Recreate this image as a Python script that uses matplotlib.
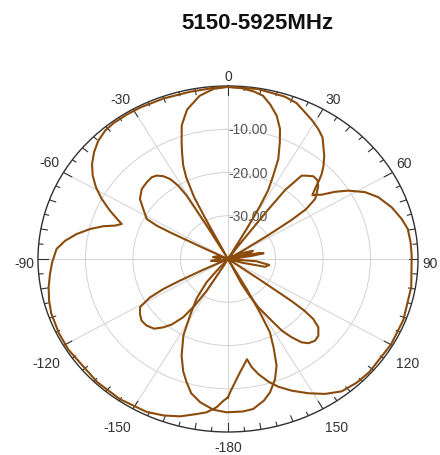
import matplotlib.pyplot as plt
import numpy as np

plt.rcParams.update({
	"font.family": ["Liberation Sans", "DejaVu Sans"],
	"figure.facecolor": "white",
})

# outer trace (angle in degrees, clockwise from top; gain in dB)
outerAngles = [-180, -178.3, -176, -172.8, -169.6, -164.5, -159.4, -154.2, -145, -136, -122, -115.7,
	-108.7, -104.4, -99.8, -95.3, -91, -86.3, -83, -79.7, -76.6, -73.9, -72, -70.1, -68.4, -65.8,
	-62.4, -59.2, -55.9, -52.5, -48.8, -45, -41.1, -37.4, -32.5, -27.8, -20.2, -11.7, -3.4,
	0, 9, 17.6, 21.8, 25.5, 29, 32.3, 35.3, 40.3, 43, 45.1, 46.6, 48.1, 50.2, 53, 55.4, 58,
	61.8, 65.7, 70.9, 75.8, 79.6, 84.3, 89, 99.6, 111, 120, 131.3, 136.5, 142, 146.8, 151.4,
	156.2, 160.3, 163.3, 166.5, 168.7, 170.2, 174.5, 179.2, 180]
outerGain = [-8.0, -7.2, -5.64, -4.28, -3.56, -2.24, -1.36, -0.72, -0.4, -0.4, -0.4, -0.48,
	-0.72, -1.12, -1.68, -2.36, -3.0, -3.84, -5.44, -7.64, -10.12, -12.68, -15.0, -16.2, -14.92, -12.76,
	-10.0, -7.64, -5.6, -3.92, -2.52, -1.36, -0.64, -0.4, -0.4, -0.4, -0.48, -0.52, -0.24,
	-0.2, -0.2, -0.6, -1.16, -2.4, -3.4, -4.44, -5.56, -8.68, -10.52, -12.16, -13.64, -15.2, -16.88, -15.28, -12.64, -10.16,
	-7.28, -5.28, -3.52, -2.28, -1.52, -1.36, -1.32, -0.88, -0.48, -0.4, -0.4, -0.6, -1.16, -2.72, -4.64,
	-6.72, -8.64, -10.4, -12.64, -14.48, -16.48, -13.68, -9.16, -8.0]

# lobed trace
lobeAngles = [-180, -151, -150, -148.5, -147, -145, -142, -139.3, -136, -131.9, -128, -124.5,
	-121, -118.4, -117, -116.3, -115.5, -114, -105, -97, -90, -82, -75, -68,
	-64.5, -63.8, -63.2, -62.8, -61.6, -57.1, -53.2, -48.3, -44, -40.4, -37.9, -35.4, -33.4, -31.7,
	-30.7, -30.2, -29.5,
	-28.5, -27, -26.5, -25, -23.6, -21.5, -19.9, -17.5, -14, -9, -4.5, 0, 4, 8, 11, 14, 17.2, 20, 22, 24.6, 26.3,
	28, 28.8, 29.5, 31, 35.5, 36.5, 37, 38.8, 40.7, 43.2, 46, 48.2, 51, 52.9, 55, 56, 57, 58, 59.5,
	65, 70, 74, 76, 78, 80, 82, 85, 90, 95, 99, 103, 106, 110, 124, 125.5, 126, 126.6, 127.7,
	129.7, 133, 135.9, 139, 141.2, 143.5, 145.6, 147.2, 150.2, 152, 153.6, 155, 180]
lobeGain = [-40, -40, -38.0, -31.4, -27.2, -23.56, -20.8, -19.16, -17.6, -16.96, -16.88, -17.52,
	-18.4, -21.32, -24.8, -28.72, -34.0, -40, -38.0, -36.4, -38.4, -36.8, -37.6, -40,
	-40, -34.0, -26.32, -23.12, -20.56, -18.76, -16.84, -15.68, -15.36, -15.2, -15.56, -16.52, -17.84, -20.08,
	-22.96, -31.08, -40,
	-40, -30.0, -24.0, -19.2, -16.48, -13.6, -11.32, -7.6, -4.4, -1.8, -0.56, -0.2, -0.4, -0.88, -1.52, -3.2, -5.32, -8.0, -10.88, -14.56, -18.52,
	-22.0, -26.0, -32.0, -40, -36.0, -26.0, -20.0, -15.28, -14.6, -13.76, -13.8, -14.52, -16.0, -17.0, -20.0, -24.0, -30.0, -36.0, -40,
	-36.8, -34.4, -35.2, -38.4, -33.2, -32.4, -35.2, -38.8, -40, -34.0, -31.2, -32.0, -36.8, -40, -40, -32.0, -23.6, -20.0, -17.32,
	-15.28, -14.0, -13.68, -14.2, -15.28, -17.48, -19.92, -23.0, -27.12, -30.4, -33.52, -40, -40]

# bottom lobe (angles past 180 continue clockwise, 224 = -136)
backAngles = [149, 150.5, 151.5, 152.5, 155, 157.5, 160.5, 164, 167, 171.3, 175, 180.5,
	185, 190, 194, 197, 200, 203.6, 208, 211.4, 216, 220, 221, 224]
backGain = [-40, -32.0, -26.0, -20.88, -17.2, -13.28, -10.4, -7.92, -6.4, -4.92, -4.6, -4.56,
	-5.0, -6.36, -8.0, -10.2, -12.4, -15.6, -20.0, -24.64, -28.8, -33.0, -36.0, -40]

ringValues = [-30, -20, -10]
thetaLabelAngles = np.arange(0, 360, 30)
thetaLabels = ["0", "30", "60", "90", "120", "150", "-180", "-150", "-120", "-90", "-60", "-30"]

traceColor = "#8a4b0c"
edgeColor = "#303030"

fig = plt.figure(figsize=(4.4, 4.56), dpi=100)
ax = fig.add_axes([38 / 440, 23 / 456, 380 / 440, 346 / 456], projection="polar")
ax.set_theta_zero_location("N")
ax.set_theta_direction(-1)
ax.set_ylim(-40, 0)
ax.set_aspect("auto")  # the reference plot is squashed into an ellipse

for angles, gain in [(outerAngles, outerGain), (lobeAngles, lobeGain), (backAngles, backGain)]:
	ax.plot(np.deg2rad(angles), gain, color=traceColor, lw=1.5, solid_joinstyle="round", zorder=4)

# grid
ax.set_rticks(ringValues)
ax.set_yticklabels([])
ax.set_thetagrids(thetaLabelAngles, labels=[""] * len(thetaLabelAngles))
ax.tick_params(axis="x", which="both", length=0)
ax.grid(color="#d2d2d2", lw=0.7)
ax.spines["polar"].set_color(edgeColor)
ax.spines["polar"].set_linewidth(1.0)

# tick marks along the rim, pointing inward
for deg in range(0, 360, 5):
	if deg % 30 == 0:
		tickLen = 2.0
	elif deg % 10 == 0:
		tickLen = 1.4
	else:
		tickLen = 0.9
	ax.plot([np.deg2rad(deg)] * 2, [-tickLen, 0], color=edgeColor, lw=0.8, zorder=3)

# radial labels along the 0 spoke
for v in ringValues:
	ax.text(0, v, f"{v:.2f}", ha="left", va="center", fontsize=10, color="#555555", zorder=2)

# angle labels
for ang, lab in zip(thetaLabelAngles, thetaLabels):
	s, c = np.sin(np.deg2rad(ang)), np.cos(np.deg2rad(ang))
	ha = "left" if s > 0.1 else ("right" if s < -0.1 else "center")
	if c > 0.1:
		va, dy = "bottom", 3
	elif c < -0.9:
		va, dy = "top", -8
	elif c < -0.1:
		va, dy = "top", -11
	else:
		va, dy = "center", -4
	ax.annotate(lab, xy=(np.deg2rad(ang), 0), xytext=(4 * s, dy), textcoords="offset pixels",
		ha=ha, va=va, fontsize=10, color="#333333", annotation_clip=False)

fig.text(257 / 440, 1 - 24 / 456, "5150-5925MHz", ha="center", va="center",
	fontsize=16, fontweight="bold", color="#111111")

fig.savefig("out.png", dpi=100)
